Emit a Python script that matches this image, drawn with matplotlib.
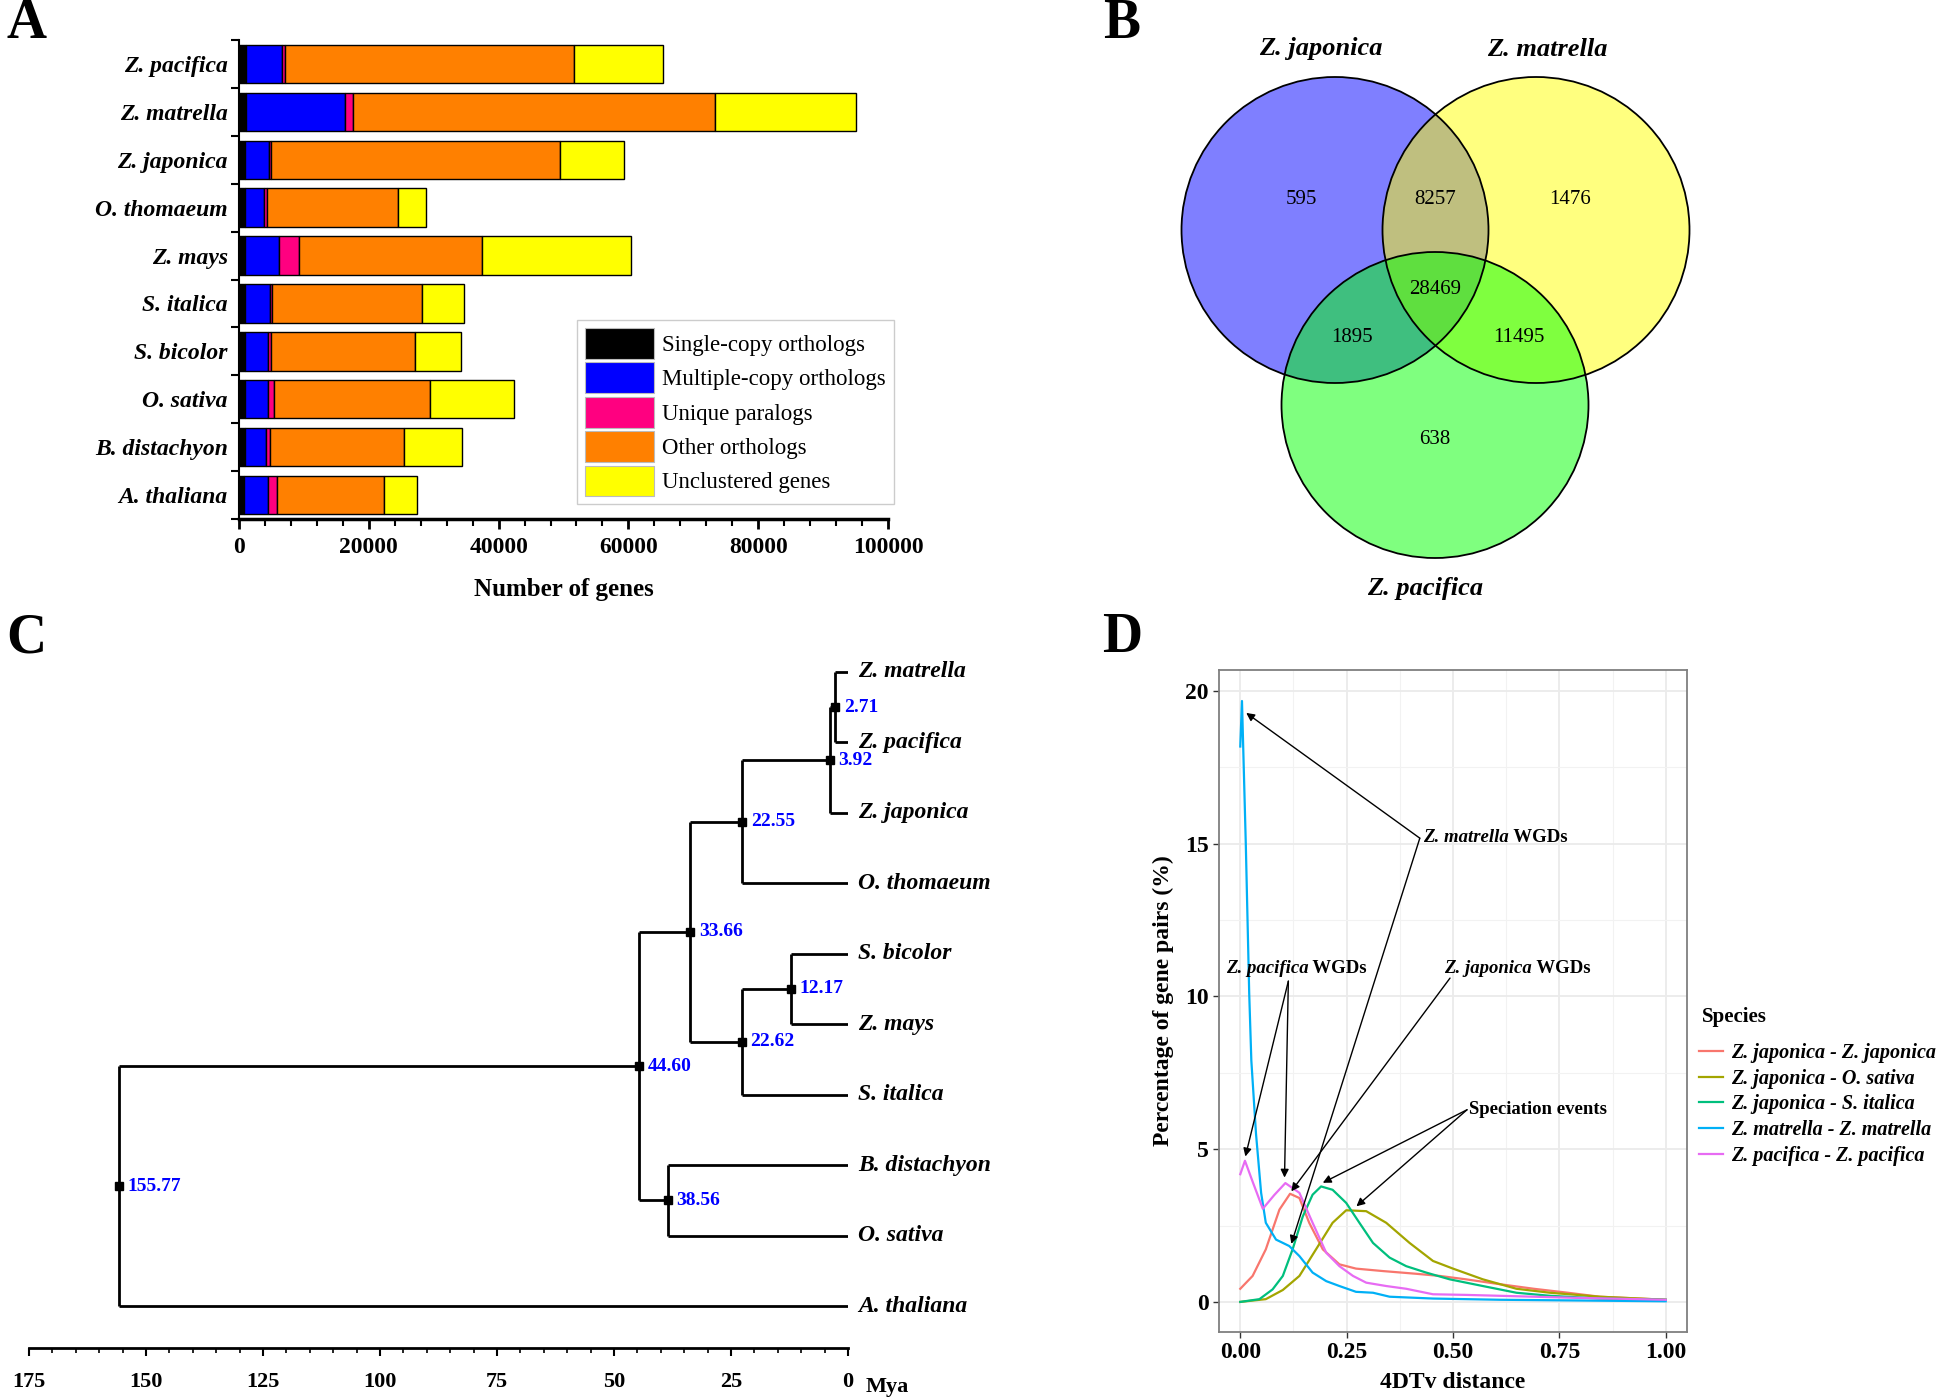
import numpy as np
import matplotlib
matplotlib.use("Agg")
import matplotlib.pyplot as plt
from matplotlib.patches import Ellipse, Patch
from matplotlib.lines import Line2D
from matplotlib.ticker import MultipleLocator

plt.rcParams["font.family"] = ["Liberation Serif", "DejaVu Serif"]
plt.rcParams["font.weight"] = "bold"
plt.rcParams["axes.labelweight"] = "bold"

W, H, DPI = 1944, 1398, 100

# ---------------- panel A: gene family composition ----------------
species_a = ["Z. pacifica", "Z. matrella", "Z. japonica", "O. thomaeum", "Z. mays",
             "S. italica", "S. bicolor", "O. sativa", "B. distachyon", "A. thaliana"]
single_copy = [1100, 1100, 1000, 1000, 1000, 1000, 1000, 1000, 1000, 800]
multi_copy = [5600, 15300, 3600, 2900, 5200, 3700, 3400, 3400, 3200, 3700]
unique_paralogs = [400, 1100, 300, 400, 3100, 400, 500, 1000, 500, 1300]
other_orthologs = [44500, 55800, 44600, 20200, 28200, 23100, 22200, 24100, 20700, 16600]
unclustered = [13700, 21800, 9800, 4300, 22900, 6400, 7100, 12800, 8900, 5100]
categories_a = ["Single-copy orthologs", "Multiple-copy orthologs", "Unique paralogs",
                "Other orthologs", "Unclustered genes"]
colors_a = ["#000000", "#0000FF", "#FF0080", "#FF8000", "#FFFF00"]

# ---------------- panel B: Venn counts ----------------
venn_sets = ["Z. japonica", "Z. matrella", "Z. pacifica"]
venn_regions = ["100", "110", "010", "111", "101", "011", "001"]
venn_counts = [595, 8257, 1476, 28469, 1895, 11495, 638]
venn_colors = ["#0000FF", "#FFFF00", "#00FF00"]

# ---------------- panel C: time tree ----------------
tree_leaves = ["Z. matrella", "Z. pacifica", "Z. japonica", "O. thomaeum", "S. bicolor",
               "Z. mays", "S. italica", "B. distachyon", "O. sativa", "A. thaliana"]
node_names = ["n1", "n2", "n3", "n4", "n5", "n6", "n7", "n8", "root"]
node_children = [("Z. matrella", "Z. pacifica"), ("n1", "Z. japonica"), ("n2", "O. thomaeum"),
                 ("S. bicolor", "Z. mays"), ("n4", "S. italica"), ("n3", "n5"),
                 ("B. distachyon", "O. sativa"), ("n6", "n7"), ("n8", "A. thaliana")]
node_ages = [2.71, 3.92, 22.55, 12.17, 22.62, 33.66, 38.56, 44.60, 155.77]

# ---------------- panel D: 4DTv distributions ----------------
dtv_labels = ["Z. japonica - Z. japonica", "Z. japonica - O. sativa", "Z. japonica - S. italica",
              "Z. matrella - Z. matrella", "Z. pacifica - Z. pacifica"]
dtv_colors = ["#F8766D", "#A3A500", "#00BF7D", "#00B0F6", "#E76BF3"]
jj_x = [0, 0.029, 0.06, 0.092, 0.117, 0.139, 0.162, 0.194, 0.233, 0.272, 0.335, 0.414,
        0.469, 0.53, 0.61, 0.69, 0.77, 0.845, 1.0]
jj_y = [0.43, 0.85, 1.72, 3.02, 3.54, 3.4, 2.59, 1.72, 1.23, 1.09, 1.01, 0.92,
        0.85, 0.74, 0.58, 0.43, 0.3, 0.17, 0.07]
jo_x = [0, 0.06, 0.1, 0.139, 0.178, 0.217, 0.249, 0.296, 0.343, 0.398, 0.453, 0.5,
        0.57, 0.649, 0.728, 0.845, 1.0]
jo_y = [0, 0.09, 0.39, 0.85, 1.72, 2.59, 3.0, 2.97, 2.59, 1.93, 1.34, 1.09,
        0.74, 0.43, 0.3, 0.17, 0.07]
js_x = [0, 0.045, 0.076, 0.1, 0.123, 0.147, 0.17, 0.19, 0.217, 0.249, 0.28, 0.312,
        0.351, 0.39, 0.437, 0.492, 0.57, 0.649, 0.728, 0.845, 1.0]
js_y = [0, 0.09, 0.41, 0.85, 1.72, 2.8, 3.51, 3.78, 3.67, 3.24, 2.59, 1.93,
        1.45, 1.17, 0.96, 0.74, 0.52, 0.3, 0.2, 0.11, 0.07]
mm_x = [0, 0.004, 0.013, 0.021, 0.026, 0.037, 0.049, 0.06, 0.084, 0.115, 0.139, 0.17,
        0.202, 0.233, 0.272, 0.312, 0.351, 0.453, 0.61, 1.0]
mm_y = [18.18, 19.67, 14.98, 10.1, 7.9, 5.5, 3.57, 2.59, 2.04, 1.83, 1.5, 0.96,
        0.68, 0.52, 0.33, 0.3, 0.17, 0.11, 0.07, 0.02]
pp_x = [0, 0.011, 0.03, 0.053, 0.08, 0.106, 0.139, 0.17, 0.202, 0.233, 0.265, 0.296,
        0.343, 0.39, 0.453, 0.53, 0.61, 0.69, 0.77, 1.0]
pp_y = [4.18, 4.62, 3.9, 3.05, 3.5, 3.89, 3.57, 2.59, 1.61, 1.17, 0.85, 0.63,
        0.52, 0.43, 0.25, 0.23, 0.2, 0.17, 0.14, 0.07]


def rect(x0, y0, x1, y1):
    return [x0 / W, 1 - y1 / H, (x1 - x0) / W, (y1 - y0) / H]


fig = plt.figure(figsize=(W / DPI, H / DPI), dpi=DPI)

# panel letters
for letter, (px, py) in zip("ABCD", [(26, 24), (1122, 24), (26, 638), (1122, 638)]):
    fig.text(px / W, 1 - py / H, letter, fontsize=40, weight="bold", ha="center", va="center")

# ================= A =================
ax = fig.add_axes(rect(239, 40, 888, 519))
ypos = np.arange(len(species_a))
left = np.zeros(len(species_a))
for vals, col in zip([single_copy, multi_copy, unique_paralogs, other_orthologs, unclustered], colors_a):
    vals = np.array(vals, dtype=float)
    ax.barh(ypos, vals, left=left, height=0.8, color=col, edgecolor="black", linewidth=1.0)
    left += vals
ax.set_xlim(0, 100000)
ax.set_ylim(len(species_a) - 0.5, -0.5)
ax.set_yticks(np.arange(-0.5, len(species_a), 1.0))
ax.set_yticklabels([])
ax.set_yticks(ypos, minor=True)
ax.set_yticklabels(species_a, minor=True, style="italic", fontsize=17)
ax.tick_params(axis="y", which="minor", length=0, pad=8)
ax.tick_params(axis="y", which="major", length=6, width=1.5, direction="out")
ax.xaxis.set_major_locator(MultipleLocator(20000))
ax.xaxis.set_minor_locator(MultipleLocator(4000))
ax.tick_params(axis="x", which="major", length=7, width=2, labelsize=17, pad=6)
ax.tick_params(axis="x", which="minor", length=5, width=1.5)
ax.spines["top"].set_visible(False)
ax.spines["right"].set_visible(False)
ax.spines["bottom"].set_linewidth(2.5)
ax.spines["left"].set_linewidth(1.5)
ax.set_xlabel("Number of genes", fontsize=18, labelpad=14)
handles = [Patch(facecolor=c, edgecolor="#bbbbbb", linewidth=0.8) for c in colors_a]
leg = ax.legend(handles, categories_a, loc="upper left", bbox_to_anchor=(577 / W, 1 - 320 / H),
                bbox_transform=fig.transFigure, prop={"weight": "normal", "size": 16.5},
                handlelength=3.0, handleheight=1.7, labelspacing=0.15, handletextpad=0.35,
                borderpad=0.35, borderaxespad=0, fancybox=False, edgecolor="#cccccc", framealpha=1)
leg.get_frame().set_linewidth(1.0)

# ================= B =================
axb = fig.add_axes(rect(1100, 0, 1944, 620))
axb.set_xlim(1100, 1944)
axb.set_ylim(620, 0)
axb.axis("off")
centers = [(1335, 230), (1536, 230), (1435, 405)]
for (cx, cy), col in zip(centers, venn_colors):
    axb.add_patch(Ellipse((cx, cy), 307, 306, facecolor=col, alpha=0.5, edgecolor="none"))
for cx, cy in centers:
    axb.add_patch(Ellipse((cx, cy), 307, 306, facecolor="none", edgecolor="black", linewidth=1.3))
label_pos = {"100": (1301, 200), "110": (1435, 200), "010": (1570, 200), "111": (1435, 290),
             "101": (1352, 337), "011": (1519, 337), "001": (1435, 440)}
for reg, cnt in zip(venn_regions, venn_counts):
    lx, ly = label_pos[reg]
    axb.text(lx, ly, str(cnt), ha="center", va="center", fontsize=15, weight="normal")
for name, (lx, ly) in zip(venn_sets, [(1321, 49), (1547, 49), (1425, 589)]):
    axb.text(lx, ly, name, ha="center", va="center", fontsize=19, style="italic", weight="bold")

# ================= C =================
axc = fig.add_axes(rect(29, 640, 848, 1348))
ycoord = {leaf: i for i, leaf in enumerate(tree_leaves)}
xcoord = {leaf: 0.0 for leaf in tree_leaves}
for name, kids, age in zip(node_names, node_children, node_ages):
    ycoord[name] = np.mean([ycoord[k] for k in kids])
    xcoord[name] = age
lw_tree = 2.0
for name, kids, age in zip(node_names, node_children, node_ages):
    ys = [ycoord[k] for k in kids]
    axc.plot([age, age], [min(ys), max(ys)], color="black", lw=lw_tree, solid_capstyle="butt")
    for k in kids:
        axc.plot([age, xcoord[k]], [ycoord[k], ycoord[k]], color="black", lw=lw_tree,
                 solid_capstyle="butt")
    axc.plot(age, ycoord[name], marker="s", color="black", markersize=6)
    axc.annotate(f"{age:.2f}", xy=(age, ycoord[name]), xytext=(6, 0), textcoords="offset points",
                 ha="left", va="center", color="#0000FF", fontsize=14, weight="bold",
                 annotation_clip=False)
for leaf in tree_leaves:
    axc.annotate(leaf, xy=(0, ycoord[leaf]), xytext=(7, 0), textcoords="offset points",
                 ha="left", va="center", fontsize=17, style="italic", weight="bold",
                 annotation_clip=False)
axc.set_xlim(175, 0)
axc.set_ylim(9.596, -0.454)
for s in ["top", "right", "left"]:
    axc.spines[s].set_visible(False)
axc.spines["bottom"].set_linewidth(2)
axc.set_yticks([])
axc.xaxis.set_major_locator(MultipleLocator(25))
axc.xaxis.set_minor_locator(MultipleLocator(5))
axc.tick_params(axis="x", which="major", length=6, width=1.5, labelsize=16, pad=11)
axc.tick_params(axis="x", which="minor", length=3.5, width=1.2)
axc.annotate("Mya", xy=(0, 0), xycoords=axc.get_xaxis_transform(), xytext=(13, -28),
             textcoords="offset points", ha="left", va="center", fontsize=16, weight="bold",
             annotation_clip=False)

# ================= D =================
axd = fig.add_axes(rect(1219, 670, 1687, 1332))
series = [(jj_x, jj_y), (jo_x, jo_y), (js_x, js_y), (mm_x, mm_y), (pp_x, pp_y)]
for (xs, ys), col in zip(series, dtv_colors):
    axd.plot(xs, ys, color=col, lw=1.6)
axd.set_xlim(-0.05, 1.05)
axd.set_ylim(-0.985, 20.685)
axd.xaxis.set_major_locator(MultipleLocator(0.25))
axd.xaxis.set_minor_locator(MultipleLocator(0.125))
axd.yaxis.set_major_locator(MultipleLocator(5))
axd.yaxis.set_minor_locator(MultipleLocator(2.5))
axd.xaxis.set_major_formatter(lambda v, p: f"{v:.2f}")
axd.grid(which="major", color="#EBEBEB", lw=1.3)
axd.grid(which="minor", color="#F2F2F2", lw=0.8)
axd.set_axisbelow(True)
for s in axd.spines.values():
    s.set_color("#7F7F7F")
    s.set_linewidth(1.3)
axd.tick_params(which="major", length=4, width=1, color="#333333", labelsize=17)
axd.tick_params(which="minor", length=0)
axd.set_xlabel("4DTv distance", fontsize=17, labelpad=6)
axd.set_ylabel("Percentage of gene pairs (%)", fontsize=17, labelpad=8)

arrow = dict(arrowstyle="-|>", color="black", lw=1.0, mutation_scale=12, shrinkA=0, shrinkB=0)


def label(x, y, sp, rest):
    t = axd.text(x, y, sp, fontsize=13.5, style="italic", weight="bold", ha="left", va="center")
    axd.annotate(rest, xy=(1, 0), xycoords=t, va="bottom", ha="left", fontsize=13.5, weight="bold")


label(0.43, 15.2, "Z. matrella", " WGDs")
label(-0.034, 10.92, "Z. pacifica", " WGDs")
label(0.48, 10.92, "Z. japonica", " WGDs")
axd.text(0.537, 6.3, "Speciation events", fontsize=13.5, weight="bold", ha="left", va="center")
arrows = [((0.422, 15.18), (0.014, 19.28)), ((0.422, 15.18), (0.12, 1.9)),
          ((0.113, 10.5), (0.012, 4.76)), ((0.113, 10.5), (0.104, 4.07)),
          ((0.493, 10.6), (0.12, 3.62)),
          ((0.533, 6.29), (0.194, 3.9)), ((0.533, 6.29), (0.273, 3.13))]
for start, end in arrows:
    axd.annotate("", xy=end, xytext=start, arrowprops=arrow)

fig.text(1702 / W, 1 - 1017 / H, "Species", fontsize=15, weight="bold", ha="left", va="center")
dh = [Line2D([], [], color=c, lw=1.6) for c in dtv_colors]
fig.legend(dh, dtv_labels, loc="upper left", bbox_to_anchor=(1699 / W, 1 - 1043 / H),
           frameon=False, prop={"style": "italic", "weight": "bold", "size": 14.5},
           handlelength=1.2, handletextpad=0.4, labelspacing=0.28, borderpad=0, borderaxespad=0)

fig.savefig("out.png", dpi=DPI)
